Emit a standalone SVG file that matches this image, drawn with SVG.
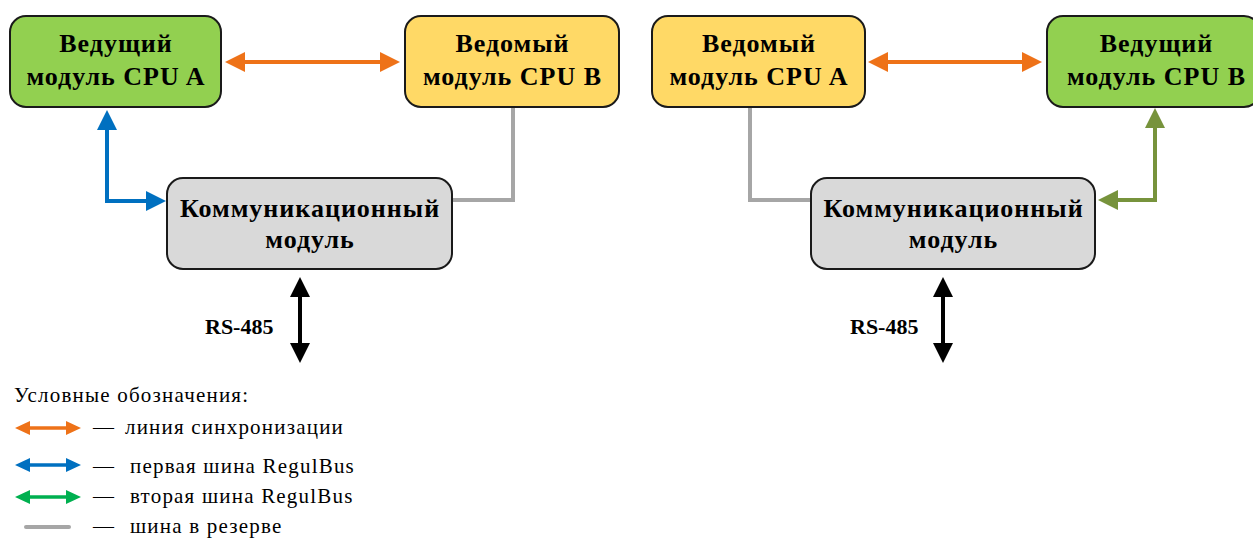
<svg xmlns="http://www.w3.org/2000/svg" width="1253" height="538" viewBox="0 0 1253 538">
<style>
.box{stroke:#1a1a1a;stroke-width:2}
.green{fill:#92D050}
.yellow{fill:#FFD966}
.grey{fill:#D9D9D9}
.t{font-family:"Liberation Serif","Times New Roman",serif;font-weight:bold;font-size:26px;fill:#000;text-anchor:middle;letter-spacing:1px}
.rs{font-family:"Liberation Serif","Times New Roman",serif;font-weight:bold;font-size:22px;fill:#000}
.lg{font-family:"Liberation Serif","Times New Roman",serif;font-size:21px;fill:#000;letter-spacing:1.2px}
.ln{fill:none;stroke-width:4}
.lnl{fill:none;stroke-width:3.5}
</style>
<defs>
<marker id="mo" markerUnits="userSpaceOnUse" markerWidth="20" markerHeight="20" refX="2" refY="10" orient="auto-start-reverse"><path d="M0,0 L20,10 L0,20 z" fill="#EE7218"/></marker>
<marker id="mb" markerUnits="userSpaceOnUse" markerWidth="20" markerHeight="20" refX="2" refY="10" orient="auto-start-reverse"><path d="M0,0 L20,10 L0,20 z" fill="#0070C0"/></marker>
<marker id="mv" markerUnits="userSpaceOnUse" markerWidth="20" markerHeight="20" refX="2" refY="10" orient="auto-start-reverse"><path d="M0,0 L20,10 L0,20 z" fill="#77933C"/></marker>
<marker id="mk" markerUnits="userSpaceOnUse" markerWidth="20" markerHeight="20" refX="2" refY="10" orient="auto-start-reverse"><path d="M0,0 L20,10 L0,20 z" fill="#000"/></marker>
<marker id="so" markerUnits="userSpaceOnUse" markerWidth="15" markerHeight="14" refX="2" refY="7" orient="auto-start-reverse"><path d="M0,0 L15,7 L0,14 z" fill="#EE7218"/></marker>
<marker id="sb" markerUnits="userSpaceOnUse" markerWidth="15" markerHeight="14" refX="2" refY="7" orient="auto-start-reverse"><path d="M0,0 L15,7 L0,14 z" fill="#0070C0"/></marker>
<marker id="sg" markerUnits="userSpaceOnUse" markerWidth="15" markerHeight="14" refX="2" refY="7" orient="auto-start-reverse"><path d="M0,0 L15,7 L0,14 z" fill="#00B050"/></marker>
</defs>

<g id="connectors">
<path class="ln" d="M243,62 L382,62" stroke="#EE7218" marker-start="url(#mo)" marker-end="url(#mo)"/>
<path class="ln" d="M107,128 L107,201 L148,201" stroke="#0070C0" marker-start="url(#mb)" marker-end="url(#mb)"/>
<path class="ln" d="M513,107 L513,200 L452,200" stroke="#A6A6A6"/>
<path class="ln" d="M300,295 L300,345" stroke="#000" marker-start="url(#mk)" marker-end="url(#mk)"/>
<path class="ln" d="M886,62 L1024,62" stroke="#EE7218" marker-start="url(#mo)" marker-end="url(#mo)"/>
<path class="ln" d="M750,107 L750,200 L811,200" stroke="#A6A6A6"/>
<path class="ln" d="M1155,126 L1155,200 L1116,200" stroke="#77933C" marker-start="url(#mv)" marker-end="url(#mv)"/>
<path class="ln" d="M943,295 L943,345" stroke="#000" marker-start="url(#mk)" marker-end="url(#mk)"/>
</g>

<g id="cpuA-left">
<rect class="box green" x="10" y="16" width="211" height="91" rx="16"/>
<text class="t" x="116" y="52">Ведущий</text>
<text class="t" x="116" y="85">модуль CPU A</text>
</g>
<g id="cpuB-left">
<rect class="box yellow" x="405" y="16" width="214" height="91" rx="16"/>
<text class="t" x="512.5" y="52">Ведомый</text>
<text class="t" x="512.5" y="85">модуль CPU B</text>
</g>
<g id="comm-left">
<rect class="box grey" x="167" y="178" width="285" height="91" rx="16"/>
<text class="t" x="310" y="217">Коммуникационный</text>
<text class="t" x="310" y="248">модуль</text>
</g>
<text class="rs" x="205" y="334">RS-485</text>

<g id="cpuA-right">
<rect class="box yellow" x="652" y="16" width="213" height="91" rx="16"/>
<text class="t" x="759" y="52">Ведомый</text>
<text class="t" x="759" y="85">модуль CPU A</text>
</g>
<g id="cpuB-right">
<rect class="box green" x="1047" y="16" width="213" height="91" rx="16"/>
<text class="t" x="1156.5" y="52">Ведущий</text>
<text class="t" x="1156.5" y="85">модуль CPU B</text>
</g>
<g id="comm-right">
<rect class="box grey" x="811" y="178" width="284" height="91" rx="16"/>
<text class="t" x="953.5" y="217">Коммуникационный</text>
<text class="t" x="953.5" y="248">модуль</text>
</g>
<text class="rs" x="850" y="334">RS-485</text>

<g id="legend">
<text class="lg" x="14" y="402">Условные обозначения:</text>
<path class="lnl" d="M28,428 L68,428" stroke="#EE7218" marker-start="url(#so)" marker-end="url(#so)"/>
<text class="lg" y="434"><tspan x="93">—</tspan><tspan x="125">линия синхронизации</tspan></text>
<path class="lnl" d="M28,465 L68,465" stroke="#0070C0" marker-start="url(#sb)" marker-end="url(#sb)"/>
<text class="lg" y="473"><tspan x="93">—</tspan><tspan x="130">первая шина RegulBus</tspan></text>
<path class="lnl" d="M28,497 L68,497" stroke="#00B050" marker-start="url(#sg)" marker-end="url(#sg)"/>
<text class="lg" y="503"><tspan x="93">—</tspan><tspan x="130">вторая шина RegulBus</tspan></text>
<path d="M26,527 L69,527" stroke="#A6A6A6" stroke-width="4" stroke-linecap="round" fill="none"/>
<text class="lg" y="533"><tspan x="93">—</tspan><tspan x="130">шина в резерве</tspan></text>
</g>
</svg>
